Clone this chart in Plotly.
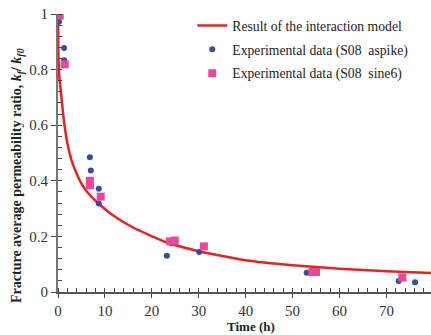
import plotly.graph_objects as go

# Model curve
t_model = [0, 0.1, 0.3, 0.72, 1.0, 1.43, 2.0, 2.86, 3.5, 5.0, 6.4, 8.5, 11.7, 16, 23.1, 30.2, 40, 50, 60, 70, 80]
k_model = [1.0, 0.84, 0.77, 0.705, 0.655, 0.595, 0.535, 0.475, 0.445, 0.39, 0.356, 0.32, 0.276, 0.232, 0.179, 0.146, 0.114, 0.096, 0.084, 0.075, 0.068]

# Experimental data (S08 aspike)
t_aspike = [0.2, 1.3, 1.3, 6.8, 7.0, 8.7, 8.7, 23.2, 24.1, 30.1, 53.0, 72.6, 76.1]
k_aspike = [0.972, 0.878, 0.834, 0.485, 0.437, 0.371, 0.318, 0.130, 0.175, 0.144, 0.069, 0.040, 0.035]

# Experimental data (S08 sine6)
t_sine6 = [0.36, 1.43, 6.8, 6.8, 9.1, 23.9, 24.9, 31.1, 54.2, 55.0, 73.4]
k_sine6 = [0.994, 0.819, 0.400, 0.384, 0.343, 0.182, 0.185, 0.164, 0.072, 0.072, 0.052]

x_ticks = [0, 10, 20, 30, 40, 50, 60, 70, 80]
y_ticks = [0, 0.2, 0.4, 0.6, 0.8, 1]
y_ticktext = ["0", "0.2", "0.4", "0.6", "0.8", "1"]

serif = "Liberation Serif, Times New Roman, serif"

fig = go.Figure()
fig.add_trace(go.Scatter(
    x=t_model, y=k_model, mode="lines", name="Result of the interaction model",
    line=dict(color="#E52421", width=2.5, shape="spline", smoothing=0.5),
    legendgroup="a",
))
fig.add_trace(go.Scatter(
    x=t_aspike, y=k_aspike, mode="markers", name="Experimental data (S08  aspike)",
    marker=dict(color="#3A4A9E", size=6, symbol="circle"),
    legendgroup="b",
))
fig.add_trace(go.Scatter(
    x=t_sine6, y=k_sine6, mode="markers", name="Experimental data (S08  sine6)",
    marker=dict(color="#E8489A", size=8, symbol="square"),
    legendgroup="c",
))

W, H = 431, 335
fig.update_layout(
    width=W, height=H,
    margin=dict(l=58, r=0, t=14, b=43),
    plot_bgcolor="white", paper_bgcolor="white",
    font=dict(family=serif, size=14, color="#333333"),
    showlegend=True,
    legend=dict(
        x=0.36, y=1.014, xanchor="left", yanchor="top",
        font=dict(family=serif, size=13.7, color="#222222"),
        bgcolor="rgba(0,0,0,0)", tracegroupgap=3, traceorder="grouped",
        itemwidth=30,
    ),
    xaxis=dict(
        range=[0, 79.5], tickvals=x_ticks, ticks="outside", ticklen=4,
        tickcolor="#444", showline=True, linecolor="#555", linewidth=1.5,
        showgrid=False, zeroline=False,
        tickfont=dict(family=serif, size=15, color="#333"),
        minor=dict(dtick=2, ticks="inside", ticklen=4, tickcolor="#444", showgrid=False),
    ),
    yaxis=dict(
        range=[0, 1], tickvals=y_ticks, ticktext=y_ticktext, ticks="outside", ticklen=5,
        tickcolor="#444", showline=True, linecolor="#777", linewidth=2,
        showgrid=False, zeroline=False,
        tickfont=dict(family=serif, size=15, color="#333"),
        minor=dict(dtick=0.04, ticks="inside", ticklen=4, tickcolor="#444", showgrid=False),
    ),
    annotations=[
        dict(text="<b>Time (h)</b>", xref="paper", yref="paper",
             x=(251 - 58) / 373, y=-(326 - 292) / 278, xanchor="center", yanchor="middle",
             showarrow=False, font=dict(family=serif, size=13, color="#222")),
        dict(text="<b>Fracture average permeability ratio, <i>k</i><sub><i>f</i></sub>/ <i>k</i><sub><i>f0</i></sub></b>",
             xref="paper", yref="paper", textangle=-90,
             x=(18 - 58) / 373, y=(292 - 176) / 278, xanchor="center", yanchor="middle",
             showarrow=False, font=dict(family=serif, size=14, color="#222")),
    ],
)

fig.write_html("out.html",
               config={"displayModeBar": False},
               post_script="document.body.style.margin='0';document.body.style.overflow='hidden';")
